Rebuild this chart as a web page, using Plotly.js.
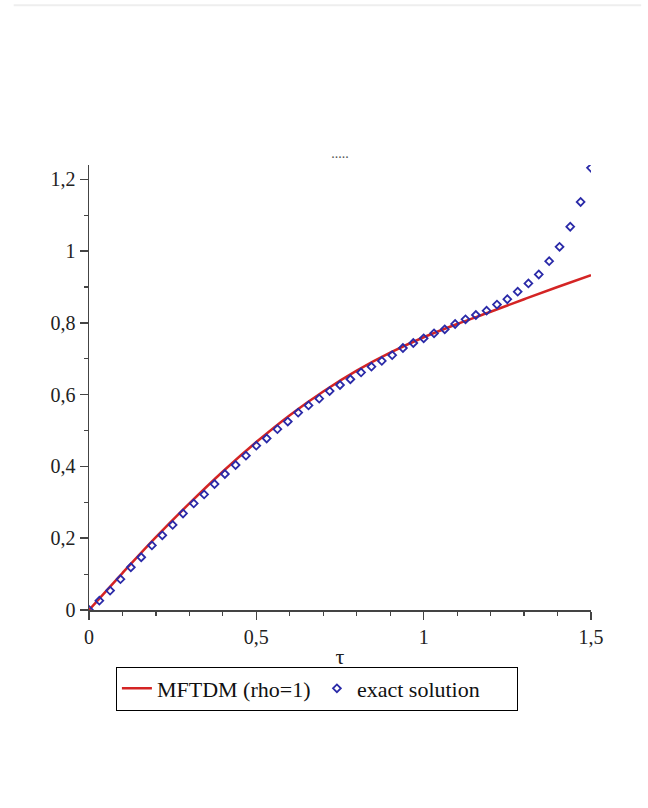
<!DOCTYPE html>
<html>
<head>
<meta charset="utf-8">
<script src="https://cdn.plot.ly/plotly-3.0.1.min.js"></script>
<style>
  html, body { margin: 0; padding: 0; background: #ffffff; }
  #chart { width: 648px; height: 808px; }
</style>
</head>
<body>
<div id="chart"></div>
<script>
// MFTDM (rho=1) approximate solution (red line)
const mftdmX = [0, 0.1, 0.2, 0.3, 0.4, 0.5, 0.6, 0.7, 0.8, 0.9, 1.0, 1.1, 1.2, 1.3, 1.4, 1.5];
const mftdmY = [0, 0.103, 0.203, 0.297, 0.386, 0.468, 0.543, 0.609, 0.667, 0.717, 0.760, 0.797, 0.831, 0.866, 0.900, 0.933];

// exact solution (blue diamonds)
const exactX = [0, 0.031, 0.063, 0.094, 0.125, 0.156, 0.188, 0.219, 0.25, 0.281, 0.313, 0.344, 0.375,
  0.406, 0.438, 0.469, 0.5, 0.531, 0.563, 0.594, 0.625, 0.656, 0.688, 0.719, 0.75, 0.781, 0.813,
  0.844, 0.875, 0.906, 0.938, 0.969, 1, 1.031, 1.063, 1.094, 1.125, 1.156, 1.188, 1.219, 1.25,
  1.281, 1.313, 1.344, 1.375, 1.406, 1.438, 1.469, 1.5];
const exactY = [0.000, 0.026, 0.054, 0.086, 0.119, 0.147, 0.180, 0.208, 0.237, 0.269, 0.297, 0.322, 0.351,
  0.379, 0.404, 0.430, 0.458, 0.478, 0.504, 0.525, 0.550, 0.570, 0.589, 0.610, 0.627, 0.643, 0.662,
  0.678, 0.694, 0.710, 0.730, 0.744, 0.757, 0.771, 0.782, 0.797, 0.810, 0.822, 0.834, 0.851, 0.866,
  0.887, 0.910, 0.935, 0.972, 1.012, 1.068, 1.137, 1.232];

// tick labels (comma decimal separator)
const xTickVals = [0, 0.5, 1, 1.5];
const xTickText = ["0", "0,5", "1", "1,5"];
const yTickVals = [0, 0.2, 0.4, 0.6, 0.8, 1, 1.2];
const yTickText = ["0", "0,2", "0,4", "0,6", "0,8", "1", "1,2"];

const seriesNames = ["MFTDM (rho=1)", "exact solution"];
const titleText = ".....";
const xTitle = "τ";

const serif = "Liberation Serif, Times New Roman, serif";
const axisColor = "#444444";

const traces = [
  {
    x: mftdmX, y: mftdmY, type: "scatter", mode: "lines", name: seriesNames[0],
    line: { color: "#d42424", width: 2.5, shape: "spline", smoothing: 1 }
  },
  {
    x: exactX, y: exactY, type: "scatter", mode: "markers", name: seriesNames[1],
    marker: { symbol: "diamond-open", color: "#2a2aa8", size: 6, line: { width: 1.8, color: "#2a2aa8" } }
  }
];

const layout = {
  width: 648, height: 808,
  paper_bgcolor: "#ffffff", plot_bgcolor: "#ffffff",
  margin: { l: 89, r: 57, t: 165, b: 198, pad: 0 },
  font: { family: serif, color: "#222222", size: 18 },
  title: { text: titleText, x: 0.5, xref: "paper", y: 0.81, yref: "container", yanchor: "middle",
           font: { family: serif, size: 14, color: "#555555" } },
  showlegend: true,
  legend: {
    orientation: "h", x: 0.454, xanchor: "center", y: -0.127, yanchor: "top",
    bordercolor: "#000000", borderwidth: 1, bgcolor: "rgba(0,0,0,0)",
    font: { family: serif, size: 22, color: "#111111" },
    itemwidth: 30, entrywidth: 155, entrywidthmode: "pixels"
  },
  xaxis: {
    range: [0, 1.5], showgrid: false, zeroline: false,
    showline: true, linecolor: axisColor, linewidth: 1.5,
    ticks: "outside", ticklen: 8, tickwidth: 1.5, tickcolor: axisColor,
    tickmode: "array", tickvals: xTickVals, ticktext: xTickText,
    tickfont: { family: serif, size: 20, color: "#222222" },
    minor: { tickmode: "linear", tick0: 0, dtick: 0.1, ticks: "outside", ticklen: 4, tickwidth: 1.2, tickcolor: axisColor, showgrid: false },
    title: { text: xTitle, font: { family: serif, size: 22, color: "#222222" }, standoff: 2 },
    automargin: false, fixedrange: true
  },
  yaxis: {
    range: [0, 1.24], showgrid: false, zeroline: false,
    showline: true, linecolor: axisColor, linewidth: 1.5,
    ticks: "outside", ticklen: 8, tickwidth: 1.5, tickcolor: axisColor,
    tickmode: "array", tickvals: yTickVals, ticktext: yTickText,
    tickfont: { family: serif, size: 20, color: "#222222" },
    minor: { tickmode: "linear", tick0: 0, dtick: 0.1, ticks: "outside", ticklen: 4, tickwidth: 1.2, tickcolor: axisColor, showgrid: false },
    automargin: false, fixedrange: true
  },
  shapes: [
    { type: "line", xref: "paper", yref: "paper", x0: -0.15, x1: 1.1, y0: 1.359, y1: 1.359,
      line: { color: "#eeeeee", width: 2 } }
  ]
};

Plotly.newPlot("chart", traces, layout, { displayModeBar: false, staticPlot: true });
</script>
</body>
</html>
